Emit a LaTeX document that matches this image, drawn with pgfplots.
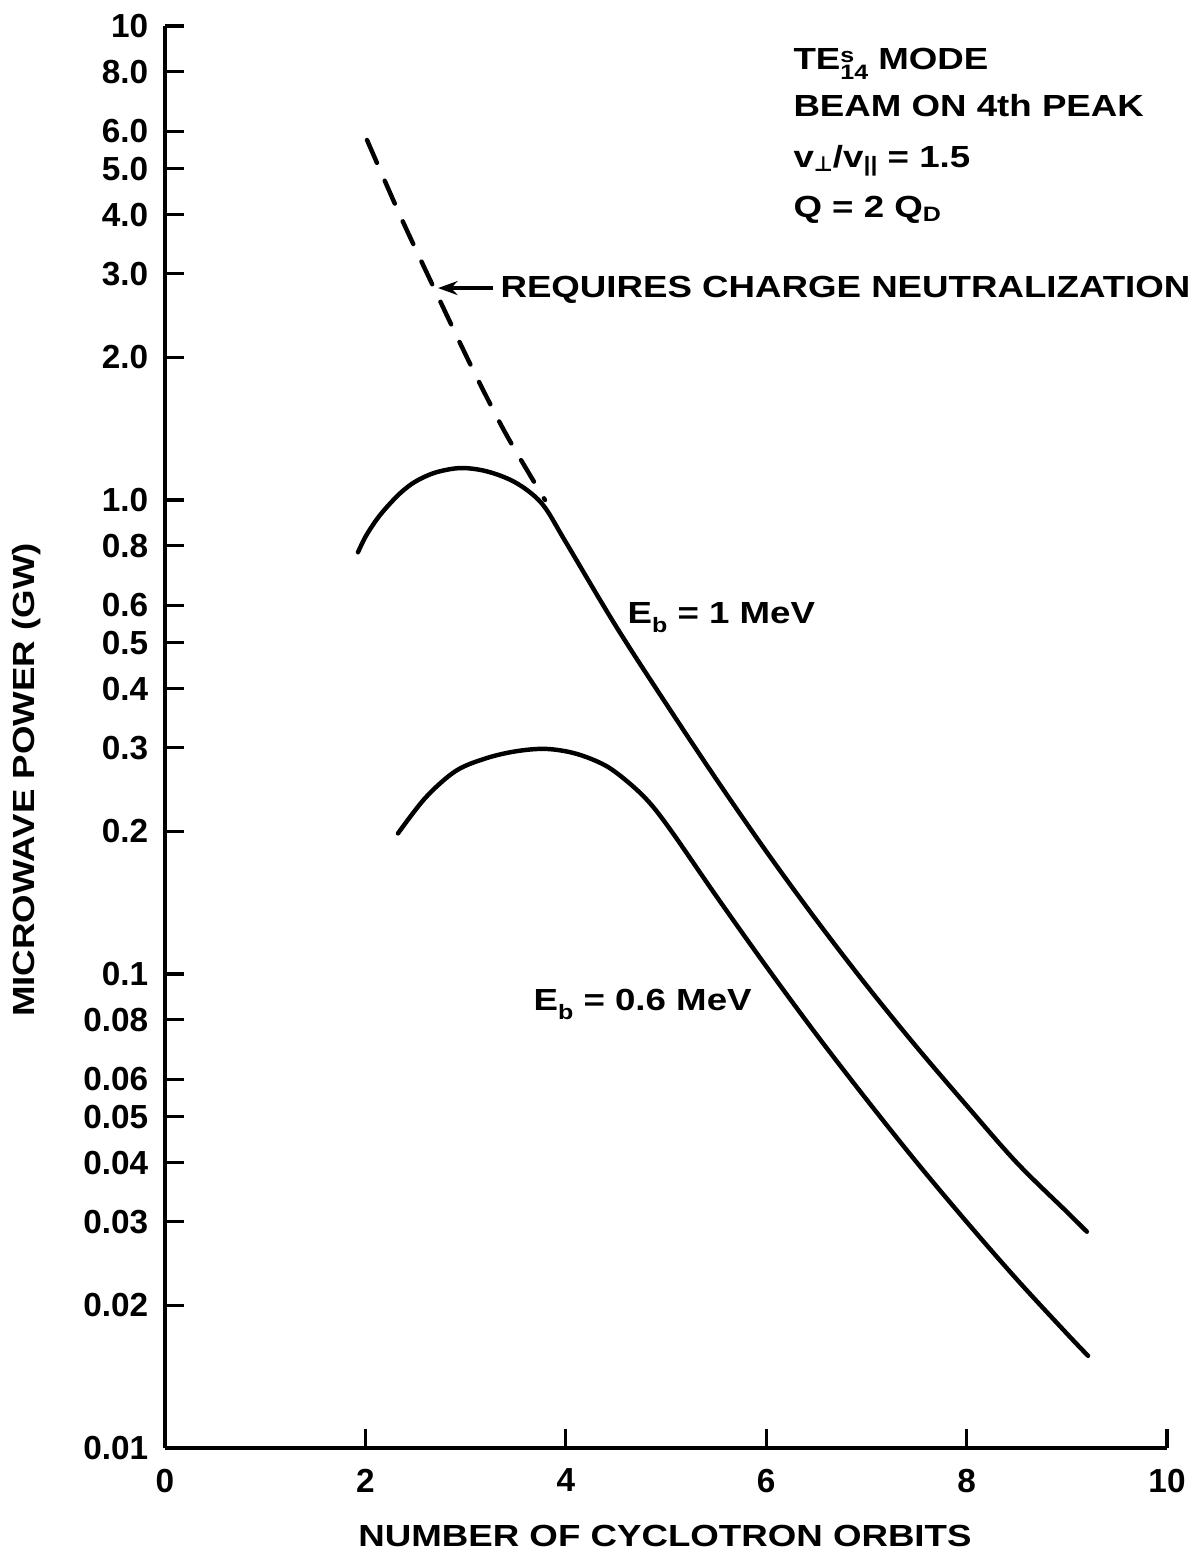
\documentclass[border=0pt]{standalone}
\usepackage{fontspec}
\setmainfont{Liberation Sans}[FakeStretch=1.2]
\newfontfamily\tickfont{Liberation Sans}
\newfontfamily\dejavu{DejaVu Sans}
\usepackage{pgfplots}
\pgfplotsset{compat=1.18}
\usetikzlibrary{arrows.meta}
\newcommand{\lbl}{\bfseries\fontsize{11}{11}\selectfont}
\newcommand{\sm}[1]{{\fontsize{7.5}{7.5}\selectfont #1}}
\begin{document}
\begin{tikzpicture}
\begin{axis}[
  scale only axis, width=360.72pt, height=511.92pt,
  xmin=0, xmax=10, ymin=0.01, ymax=10, ymode=log,
  axis x line=bottom, axis y line=left,
  axis line style={-, line width=1.2pt},
  x axis line style={-}, y axis line style={-},
  tick align=inside,
  major tick length=7pt,
  every tick/.style={line width=1.1pt, black},
  xtick={0,2,4,6,8,10}, xticklabels={0,2,4,6,8,10},
  ytick={0.01,0.02,0.03,0.04,0.05,0.06,0.08,0.1,0.2,0.3,0.4,0.5,0.6,0.8,1,2,3,4,5,6,8,10},
  yticklabels={0.01,0.02,0.03,0.04,0.05,0.06,0.08,0.1,0.2,0.3,0.4,0.5,0.6,0.8,1.0,2.0,3.0,4.0,5.0,6.0,8.0,10},
  ticklabel style={font=\tickfont\bfseries\fontsize{12}{12}\selectfont},
  yticklabel style={xshift=-2.5pt}, xticklabel style={yshift=-4pt},
  /pgf/number format/assume math mode=true,
  clip=false,
]
% E_b = 1 MeV
\addplot[line width=1.6pt, line cap=round, smooth, tension=0.55] coordinates {
(1.926,0.776) (2.0,0.836) (2.1,0.902) (2.2,0.959) (2.35,1.035) (2.5,1.094) (2.7,1.143)
(2.95,1.168) (3.2,1.151) (3.45,1.102) (3.65,1.035) (3.8,0.959) (4.0,0.815)
(4.5,0.542) (5.0,0.372) (5.5,0.258) (6.0,0.1815) (6.5,0.130) (7.0,0.0947)
(7.5,0.0702) (8.0,0.0528) (8.5,0.0400) (9.0,0.0315) (9.2,0.0286)};
% E_b = 0.6 MeV
\addplot[line width=1.6pt, line cap=round, smooth, tension=0.55] coordinates {
(2.325,0.198) (2.6,0.2355) (2.9,0.268) (3.2,0.285) (3.5,0.295) (3.8,0.2985)
(4.1,0.2917) (4.4,0.275) (4.65,0.251) (4.85,0.228) (5.07,0.198) (5.5,0.1462)
(6.0,0.1038) (6.5,0.0746) (7.0,0.0544) (7.5,0.0401) (8.0,0.0300) (8.5,0.0227)
(9.0,0.01744) (9.212,0.01565)};
% charge neutralization branch
\addplot[line width=1.6pt, line cap=round, dash pattern=on 9pt off 7pt, smooth, tension=0.5] coordinates {
(2.016,5.75) (2.345,3.99) (2.695,2.77) (3.044,1.94) (3.393,1.39) (3.792,1.0)};

\node[anchor=base west, inner sep=0, font=\lbl] at (axis cs:6.267,8.08)
  {TE\rlap{\raisebox{2.8pt}{\sm{s}}}\raisebox{-3.3pt}{\sm{14}}\ MODE};
\node[anchor=base west, inner sep=0, font=\lbl] at (axis cs:6.267,6.43) {BEAM ON 4th PEAK};
\node[anchor=base west, inner sep=0, font=\lbl] at (axis cs:6.267,5.04)
  {v\raisebox{-1.5pt}{\sm{\dejavu\bfseries ⊥}}/v\raisebox{-1.5pt}{\sm{||}} = 1.5};
\node[anchor=base west, inner sep=0, font=\lbl] at (axis cs:6.267,3.95)
  {Q = 2 Q\raisebox{-1.5pt}{\sm{D}}};
\node[anchor=base west, inner sep=0, font=\lbl] at (axis cs:3.343,2.68) {REQUIRES CHARGE NEUTRALIZATION};
\draw[-{Stealth[length=7pt,width=5pt]}, line width=1.3pt] (axis cs:3.273,2.80) -- (axis cs:2.725,2.80);
\node[anchor=base west, inner sep=0, font=\lbl] at (axis cs:4.611,0.550)
  {E\raisebox{-3.5pt}{\sm{b}} = 1 MeV};
\node[anchor=base west, inner sep=0, font=\lbl] at (axis cs:3.673,0.0839)
  {E\raisebox{-3.5pt}{\sm{b}} = 0.6 MeV};
\node[anchor=base, inner sep=0, font=\lbl] at (rel axis cs:0.499,-0.0696) {NUMBER OF CYCLOTRON ORBITS};
\node[anchor=center, rotate=90, inner sep=0, font=\lbl] at (rel axis cs:-0.1377,0.4698) {MICROWAVE POWER (GW)};
\end{axis}
\pgfresetboundingbox
\path (-59.4pt,-39.96pt) rectangle (370.8pt,521.28pt);
\end{tikzpicture}
\end{document}
